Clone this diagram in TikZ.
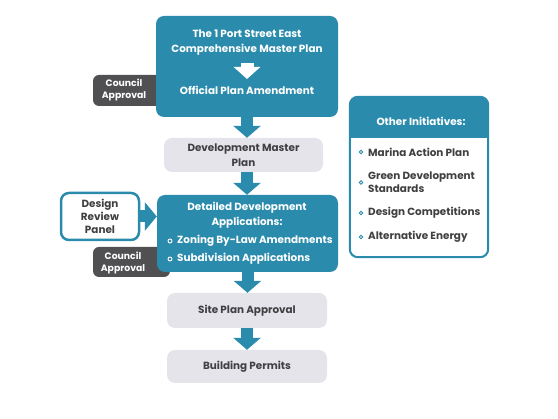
\documentclass[tikz,border=0pt]{standalone}
\usepackage{fontspec}
\setmainfont{Poppins}
\usetikzlibrary{arrows.meta}
\definecolor{portteal}{RGB}{42,139,172}
\definecolor{stepgray}{RGB}{230,228,235}
\definecolor{tabgray}{RGB}{80,80,83}
\definecolor{txtgray}{RGB}{64,64,66}
\begin{document}
\begin{tikzpicture}[x=1pt, y=-1pt,
  every node/.style={font=\bfseries\fontsize{10.4}{15}\selectfont, align=center, inner sep=0pt},
  bigbox/.style={rectangle, rounded corners=8pt, fill=portteal, text=white},
  graybox/.style={rectangle, rounded corners=8pt, fill=stepgray, text=txtgray},
  tab/.style={rectangle, rounded corners=6pt, fill=tabgray},
  tablbl/.style={text=white, font=\bfseries\fontsize{9.3}{12}\selectfont},
  tight/.style={font=\bfseries\fontsize{10.4}{13}\selectfont},
  flow/.style={portteal, line width=12pt, -{Triangle[width=27pt,length=12pt]}},
  bul/.style={circle, draw, line width=0.9pt, minimum size=4pt}
]
\useasboundingbox (0,0) rectangle (558,419);
% council approval tabs sit behind the blue boxes
\node[tab, minimum width=82pt, minimum height=31pt] (tab1) at (134,90.5) {};
\node[tablbl] (ca1) at (124,90.5) {Council\\Approval};
\node[tab, minimum width=77pt, minimum height=30pt] (tab2) at (131.5,262) {};
\node[tablbl] (ca2) at (123,263) {Council\\Approval};

% main chain
\node[bigbox, minimum width=182pt, minimum height=101pt] (plan) at (247,66.5) {};
\node[text=white] (cmp) at (247,42.5) {The 1 Port Street East\\Comprehensive Master Plan};
\node[text=white] (opa) at (247,90) {Official Plan Amendment};
\draw[white, line width=13pt, -{Triangle[width=26pt,length=12pt]}] (247,63) -- (247,79);

\node[graybox, minimum width=159pt, minimum height=34pt] (dmp) at (243.5,155) {Development Master\\Plan};
\node[bigbox, minimum width=181pt, minimum height=77pt] (dda) at (247.5,233.5) {};
\node[text=white] (ddt) at (247,215.5) {Detailed Development\\Applications:};
\node[graybox, minimum width=160pt, minimum height=35pt] (spa) at (247,310.5) {Site Plan Approval};
\node[graybox, minimum width=160pt, minimum height=33pt] (bp) at (247,366.5) {Building Permits};

\foreach \y/\t in {241/Zoning By-Law Amendments, 259/Subdivision Applications} {
  \node[bul, draw=white] at (170,\y) {};
  \node[text=white, anchor=west] at (177,\y) {\t};
}

% design review panel
\node[rectangle, rounded corners=8pt, draw=portteal, line width=2.5pt, fill=white, tight,
  text=txtgray, minimum width=78pt, minimum height=47pt] (drp) at (100,216.5) {Design\\Review\\Panel};

\draw[flow] (plan.south) -- (plan.south |- dmp.north);
\draw[flow] (plan.south |- dmp.south) -- (plan.south |- dda.north);
\draw[flow] (dda.south) -- (dda.south |- spa.north);
\draw[flow] (spa.south) -- (bp.north);
\draw[flow, -{Triangle[width=28pt,length=12pt]}] (drp.east) -- (drp.east -| dda.west);

% other initiatives
\node[rectangle, rounded corners=8pt, fill=white, minimum width=138pt, minimum height=160pt] (other) at (419,177) {};
\begin{scope}
  \clip[rounded corners=8pt] (other.north west) rectangle (other.south east);
  \fill[portteal] (other.north west) rectangle (other.east |- 0,138);
\end{scope}
\draw[portteal, line width=2pt, rounded corners=8pt] (other.north west) rectangle (other.south east);
\node[text=white] (oth) at (421,121) {Other Initiatives:};
\foreach \y/\t in {152/Marina Action Plan, 182.5/Green Development\\Standards, 213/Design Competitions, 237/Alternative Energy} {
  \node[bul, draw=portteal, line width=0.8pt, minimum size=3.6pt] at (361,\y) {};
  \node[text=txtgray, anchor=west, align=left, tight] at (368,\y) {\t};
}
\end{tikzpicture}
\end{document}
